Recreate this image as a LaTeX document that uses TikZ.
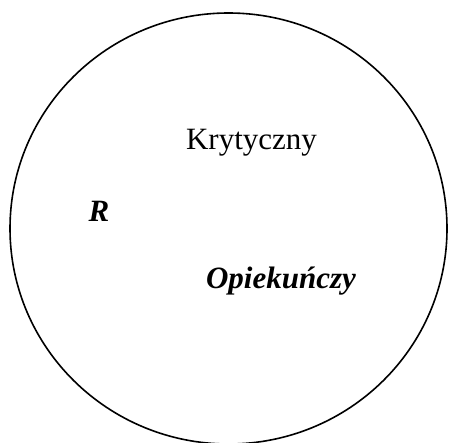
\documentclass[tikz,border=0pt]{standalone}
\usepackage{fontspec}
\setmainfont{Liberation Serif}
\begin{document}
\begin{tikzpicture}[x=1pt,y=-1pt,
  lbl/.style={anchor=base,inner sep=0pt,font=\fontsize{31}{36}\selectfont},
  bi/.style={lbl,font=\fontsize{31}{36}\selectfont\bfseries\itshape}]
\useasboundingbox (0,0) rectangle (449,443);
\draw[line width=1.6pt] (228.5,228.5) ellipse [x radius=218.5, y radius=215.5];
\node[lbl] (k) at (251.5,150) {Krytyczny};
\node[bi] (r) at (99,222) {R};
\node[bi] (o) at (281,288) {Opiekuńczy};
\end{tikzpicture}
\end{document}
